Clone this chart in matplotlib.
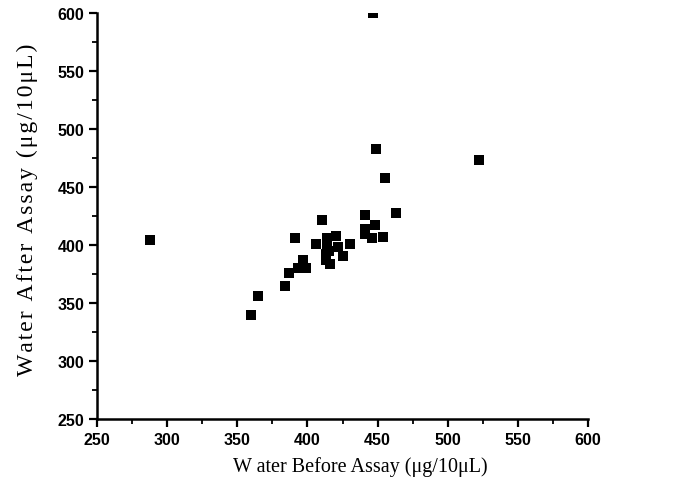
import matplotlib
matplotlib.use("Agg")
import matplotlib.pyplot as plt
from matplotlib.ticker import MultipleLocator

# water content before / after assay (ug/10uL)
water_before = [288, 360, 365, 384, 387, 393, 397, 399, 391, 406, 410, 413, 414,
                414, 415, 416, 420, 422, 425, 430, 413, 441, 441, 441, 446, 448,
                454, 455, 463, 449, 447, 522]
water_after = [404, 340, 356, 365, 376, 380, 387, 380, 406, 401, 422, 387, 406,
               399, 395, 384, 408, 398, 391, 401, 392, 426, 414, 410, 406, 417,
               407, 458, 428, 483, 600, 473]

x_label = 'W ater Before Assay (\u03bcg/10\u03bcL)'
y_label = 'Water After Assay (\u03bcg/10\u03bcL)'

fig = plt.figure(figsize=(6.76, 4.89), dpi=100)
ax = fig.add_axes([0.1435, 0.141, 0.7265, 0.830])

ax.plot(water_before, water_after, 's', color='black', markersize=7.8,
        markeredgewidth=0)

ax.set_xlim(250, 600)
ax.set_ylim(250, 600)
ax.xaxis.set_major_locator(MultipleLocator(50))
ax.yaxis.set_major_locator(MultipleLocator(50))
ax.xaxis.set_minor_locator(MultipleLocator(25))
ax.yaxis.set_minor_locator(MultipleLocator(25))

for s in ['top', 'right']:
    ax.spines[s].set_visible(False)
for s in ['left', 'bottom']:
    ax.spines[s].set_linewidth(1.8)

ax.tick_params(which='major', direction='out', length=6, width=1.6, pad=3)
ax.tick_params(which='minor', direction='out', length=3.5, width=1.3)
for lbl in ax.get_xticklabels() + ax.get_yticklabels():
    lbl.set_fontfamily('Liberation Sans')
    lbl.set_fontweight('bold')
    lbl.set_fontsize(11.5)

ax.set_xlabel(x_label, family='Liberation Serif', fontsize=14.5)
ax.xaxis.set_label_coords(0.536, -0.092)
# the scanned y label is spread out, so pad its letters with hair spaces
ax.set_ylabel('\u200a'.join(y_label), family=['Liberation Serif', 'DejaVu Serif'],
              fontsize=17)
ax.yaxis.set_label_coords(-0.12, 0.517)

fig.savefig('out.png', dpi=100)
